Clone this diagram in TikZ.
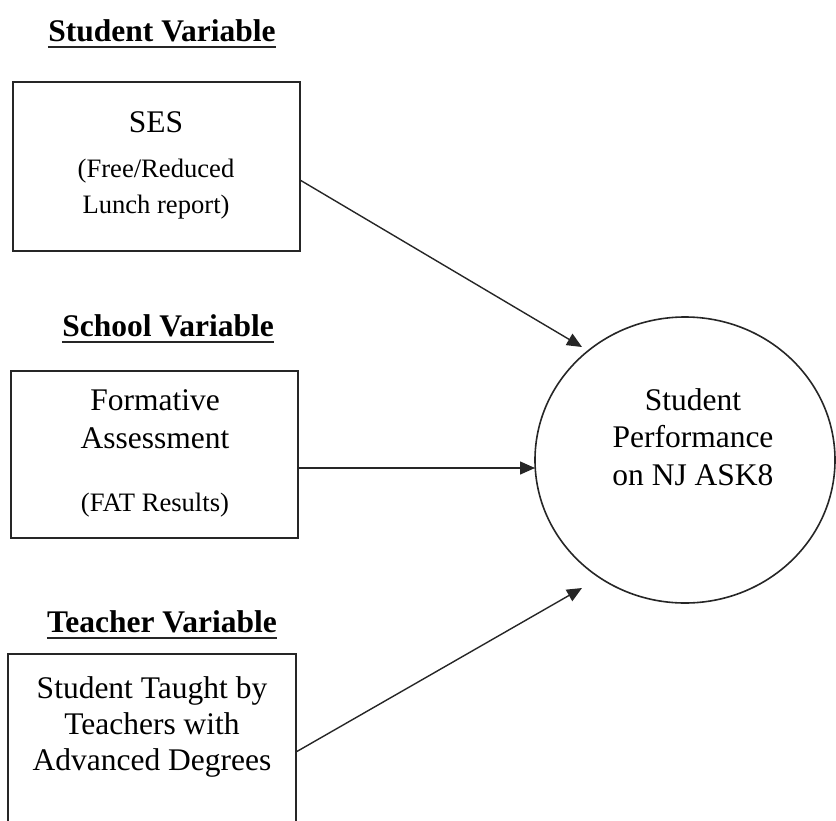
\documentclass[tikz,border=0pt]{standalone}
\usepackage{fontspec}
\setmainfont{Liberation Serif}
\usetikzlibrary{arrows.meta,shapes.geometric}
\begin{document}
\begin{tikzpicture}[x=0.5pt,y=-0.5pt,
  box/.style={draw=black!85,line width=0.9pt,inner sep=0pt,rectangle},
  hdr/.style={font=\fontsize{15.75}{18}\selectfont\bfseries,anchor=base,inner sep=0pt},
  txt/.style={font=\fontsize{15.75}{18}\selectfont,anchor=base,inner sep=0pt},
  sml/.style={font=\fontsize{13.3}{16}\selectfont,anchor=base,inner sep=0pt},
  uline/.style={line width=0.9pt,draw=black!85},
  arr/.style={-{Triangle[length=7.5pt,width=6.5pt]},line width=0.7pt,draw=black!85}]
\clip (0,0) rectangle (836,820);
% headers
\node[hdr] (h1) at (162,41) {Student Variable};
\node[hdr] (h2) at (168,336) {School Variable};
\node[hdr] (h3) at (162,632) {Teacher Variable};
\foreach \h in {h1,h2,h3}
  \draw[uline] ([yshift=-2.8pt]\h.base west) -- ([yshift=-2.8pt]\h.base east);
% boxes
\node[box,minimum width=143.5pt,minimum height=84.5pt] (box1) at (156.5,166.5) {};
\node[box,minimum width=143.5pt,minimum height=83.5pt] (box2) at (154.5,454.5) {};
\node[box,minimum width=144pt,minimum height=98pt] (box3) at (152,752) {};
% box texts
\node[txt] (t11) at (156,132) {SES};
\node[sml] (t12) at (156,177) {(Free/Reduced};
\node[sml] (t13) at (156,213) {Lunch report)};
\node[txt] (t21) at (155,410) {Formative};
\node[txt] (t22) at (155,448) {Assessment};
\node[sml] (t23) at (155,511) {(FAT Results)};
\node[txt] (t31) at (152,698) {Student Taught by};
\node[txt] (t32) at (152,734) {Teachers with};
\node[txt] (t33) at (152,770) {Advanced Degrees};
% outcome
\node[ellipse,draw=black!85,line width=0.8pt,inner sep=0pt,minimum width=150pt,minimum height=143pt] (perf) at (685,460) {};
\node[txt] (p1) at (693,410) {Student};
\node[txt] (p2) at (693,447) {Performance};
\node[txt] (p3) at (693,485) {on NJ ASK8};
% connectors
\coordinate (s1) at (300,180);
\coordinate (e1) at (582,347);
\coordinate (s2) at (298,468);
\coordinate (e2) at (535,468);
\coordinate (s3) at (296,752);
\coordinate (e3) at (582,588);
\draw[arr] (s1) -- (e1);
\draw[arr] (s2) -- (e2);
\draw[arr] (s3) -- (e3);
\end{tikzpicture}
\end{document}
